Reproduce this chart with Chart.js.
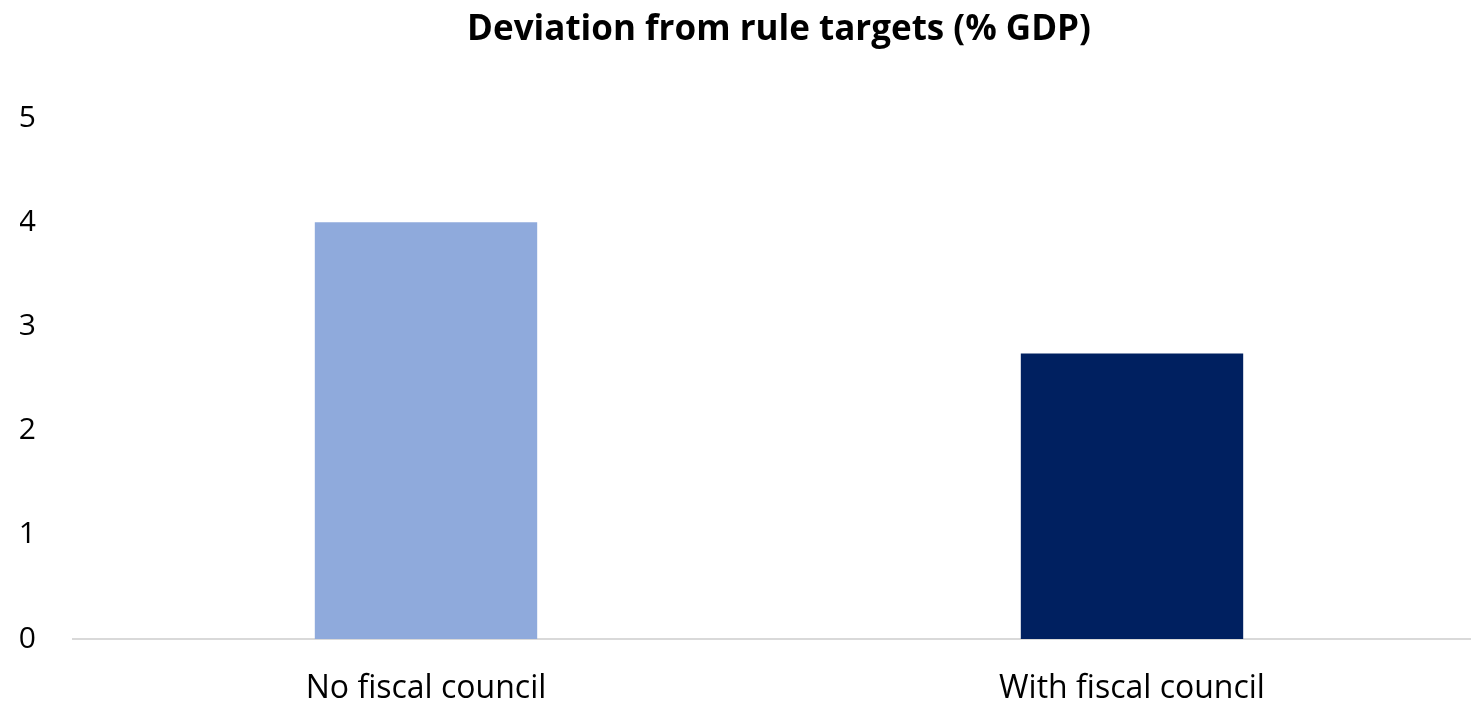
<!DOCTYPE html>
<html>
<head>
<meta charset="utf-8">
<title>Deviation from rule targets</title>
<script src="https://cdn.jsdelivr.net/npm/chart.js@4/dist/chart.umd.min.js"></script>
<style>
  html, body { margin: 0; padding: 0; background: #fff; }
  #wrap { width: 1471px; height: 705px; overflow: hidden; }
  #box { position: relative; width: 1486px; height: 705px; }
</style>
</head>
<body>
<div id="wrap"><div id="box"><canvas id="deviationChart"></canvas></div></div>
<script>
const categories = ["No fiscal council", "With fiscal council"];
const deviation = [4.0, 2.74];
const barColors = ["#8FAADC", "#002060"];
const yTicks = [0, 1, 2, 3, 4, 5];

Chart.defaults.font.family = "'Open Sans', Lato, sans-serif";
Chart.defaults.color = "#000";

const ctx = document.getElementById('deviationChart').getContext('2d');

new Chart(ctx, {
    type: 'bar',
    data: {
        labels: categories,
        datasets: [{
            label: 'Deviation',
            data: deviation,
            backgroundColor: barColors,
            barPercentage: 0.315,
            categoryPercentage: 1.0
        }]
    },
    options: {
        responsive: true,
        maintainAspectRatio: false,
        animation: false,
        layout: { padding: { left: 20, right: 1, top: 0, bottom: 0 } },
        plugins: {
            legend: { display: false },
            tooltip: { enabled: false },
            title: {
                display: true,
                text: 'Deviation from rule targets (% GDP)',
                fullSize: false,
                font: { size: 35, weight: 'bold' },
                padding: { top: 9, bottom: 67 }
            }
        },
        scales: {
            x: {
                grid: { display: false, drawTicks: false },
                border: { display: true, color: '#D9D9D9', width: 2 },
                ticks: { font: { size: 32 }, padding: 31 },
                afterFit: axis => { axis.height = 66; }
            },
            y: {
                min: 0,
                max: 5,
                afterBuildTicks: axis => { axis.ticks = yTicks.map(v => ({ value: v })); },
                grid: { display: false, drawTicks: false },
                border: { display: false },
                ticks: { font: { size: 30 }, padding: 37 },
                afterFit: axis => { axis.width = 53; }
            }
        }
    }
});
</script>
</body>
</html>
